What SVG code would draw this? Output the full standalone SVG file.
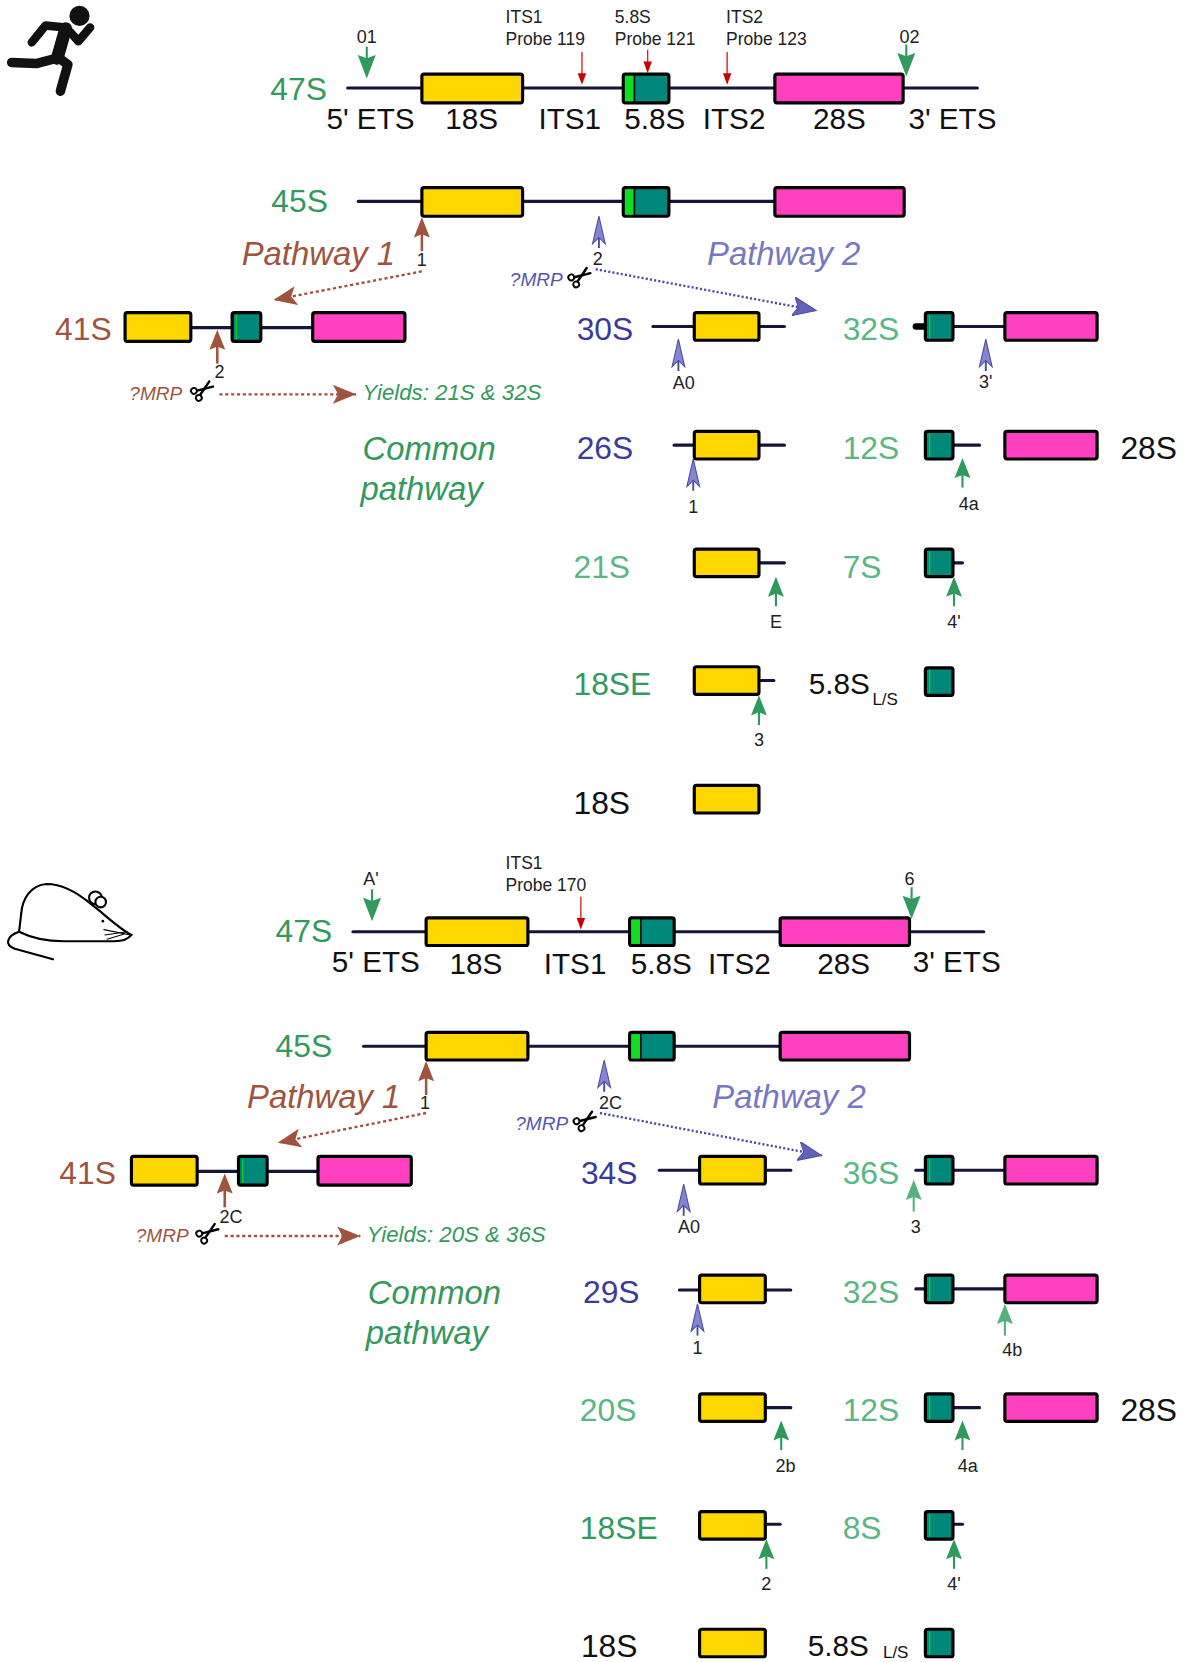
<svg xmlns="http://www.w3.org/2000/svg" width="1185" height="1662" viewBox="0 0 1185 1662">
<style>
text{font-family:"Liberation Sans",Arial,Helvetica,sans-serif}
.lg{font-size:28px}
.nd{font-size:30px}
.pt{font-size:31px;font-style:italic}
.yl{font-size:21px;font-style:italic}
.mr{font-size:18px;font-style:italic}
.sm{font-size:17px;fill:#222;text-anchor:middle}
.pr{font-size:16.5px;fill:#222}
.sub{font-size:16px;fill:#111}
.k{fill:#111}
.dg{fill:#33995d}
.lgn{fill:#5ab685}
.bl{fill:#3a3a9a}
.br{fill:#a0533d}
.pw2{fill:#7777c2}
.mb{fill:#5555b0}
.ln{stroke:#15153a;stroke-width:3;fill:none;stroke-linecap:round}
.y{fill:#ffd700;stroke:#000;stroke-width:3}
.t{fill:#00897b;stroke:#000;stroke-width:3}
.p{fill:#ff40c0;stroke:#000;stroke-width:3}
.s{fill:#11dd22}
.ts{stroke:#11cc22;stroke-width:1.3}
.dotb{stroke:#a0533d;stroke-width:2.2;stroke-dasharray:3 2.5;fill:none}
.dotv{stroke:#4a4aa8;stroke-width:2.2;stroke-dasharray:2 2;fill:none}
</style>
<defs>
  <!-- cleavage-site arrows, tip at origin -->
  <g id="upG"><line x1="0" y1="14" x2="0" y2="28" stroke="#2f9a5c" stroke-width="2"/><path d="M0,0 L7.5,19 L0,16 L-7.5,19 Z" fill="#2f9a5c"/></g>
  <g id="upL"><line x1="0" y1="14" x2="0" y2="30" stroke="#55b27f" stroke-width="2"/><path d="M0,0 L7.5,19 L0,16 L-7.5,19 Z" fill="#55b27f"/></g>
  <g id="upB"><line x1="0" y1="14" x2="0" y2="30" stroke="#4a4aa6" stroke-width="1.8"/><path d="M0,0 L6,26 L0,20 L-6,26 Z" fill="#8686cf" stroke="#4a4aa6" stroke-width="1"/></g>
  <g id="upR"><line x1="0" y1="14" x2="0" y2="32" stroke="#a0533d" stroke-width="2.4"/><path d="M0,0 L7.5,19 L0,16 L-7.5,19 Z" fill="#a0533d"/></g>
  <g id="dnG"><line x1="0" y1="-18" x2="0" y2="-30" stroke="#2f9a5c" stroke-width="2"/><path d="M0,0 L8.5,-22 L0,-19 L-8.5,-22 Z" fill="#2f9a5c"/></g>
  <g id="dnR"><line x1="0" y1="-9" x2="0" y2="-31" stroke="#e02020" stroke-width="1.3"/><path d="M0,0 L4,-11 L-4,-11 Z" fill="#cc0000"/></g>
  <g id="dnRs"><line x1="0" y1="-9" x2="0" y2="-22" stroke="#e02020" stroke-width="1.3"/><path d="M0,0 L4,-11 L-4,-11 Z" fill="#cc0000"/></g>
  <g id="scis" fill="none" stroke="#000" stroke-width="1.8" stroke-linecap="round">
    <g transform="rotate(-35)">
      <circle cx="-7" cy="-4" r="2.8"/>
      <circle cx="-7" cy="4" r="2.8"/>
      <path d="M-4.5,-2.5 L10,3" stroke-width="2.3"/>
      <path d="M-4.5,2.5 L10,-3" stroke-width="2.3"/>
    </g>
  </g>
  <marker id="hBr" markerUnits="userSpaceOnUse" markerWidth="24" markerHeight="20" refX="22" refY="9" orient="auto">
    <path d="M0,0 L22,9 L0,18 L5,9 Z" fill="#a0533d"/>
  </marker>
  <marker id="hBl" markerUnits="userSpaceOnUse" markerWidth="24" markerHeight="20" refX="22" refY="9" orient="auto">
    <path d="M0,0 L22,9 L0,18 L5,9 Z" fill="#6262ba" stroke="#4a4aa8" stroke-width="1"/>
  </marker>
</defs>

<g transform="scale(1.06)">

<!-- runner icon -->
<g id="runner" stroke="#111" stroke-linecap="round" stroke-linejoin="round" fill="none">
  <circle cx="75" cy="15" r="9.5" fill="#111" stroke="none"/>
  <path d="M30,40 L43,24 L62,26" stroke-width="8"/>
  <path d="M66,30 L74,39 L85,26" stroke-width="8"/>
  <path d="M62,27 L54,55" stroke-width="12"/>
  <path d="M53,55 L34,60 L11,59" stroke-width="9"/>
  <path d="M56,55 L64,61 L57,86" stroke-width="9"/>
</g>

<!-- mouse icon -->
<g id="mouse" stroke="#000" stroke-width="2" fill="none" stroke-linecap="round">
  <path d="M124,882 C112,876 98,862 86,853 C74,843 60,834 44,834 C29,835 21,848 20,862 L18,879 C30,885 45,888 60,888 L108,888 C116,888 121,886 124,882 Z" fill="#fff"/>
  <path d="M18,879 C6,883 4,892 14,895 L50,905"/>
  <circle cx="90" cy="847" r="6" fill="#fff"/>
  <circle cx="95" cy="851" r="5" fill="#fff"/>
  <circle cx="97" cy="869" r="1.3" fill="#000" stroke="none"/>
  <path d="M98,877 L123,882 M99,882 L120,879 M101,886 L118,881" stroke-width="1"/>
</g>

<!-- ===== human pathway ===== -->
<g id="h47S">
  <text class="nd dg" x="255" y="94">47S</text>
  <line class="ln" x1="328" y1="83" x2="922" y2="83"/>
  <rect class="y" x="398" y="70" width="95" height="27" rx="2"/>
  <rect class="t" x="588" y="70" width="43" height="27" rx="2"/>
  <rect class="s" x="589.5" y="71.5" width="8.5" height="24"/>
  <line x1="598.5" y1="71" x2="598.5" y2="96" stroke="#000" stroke-width="1.5"/>
  <rect class="p" x="731" y="70" width="121" height="27" rx="2"/>
  <text class="sm" x="346" y="41">01</text>
  <use href="#dnG" x="346" y="74"/>
  <text class="sm" x="858" y="41">02</text>
  <use href="#dnG" x="855" y="72"/>
  <text class="pr" x="477" y="22">ITS1</text>
  <text class="pr" x="477" y="42">Probe 119</text>
  <use href="#dnR" x="549" y="80"/>
  <text class="pr" x="580" y="22">5.8S</text>
  <text class="pr" x="580" y="42">Probe 121</text>
  <use href="#dnRs" x="611" y="69"/>
  <text class="pr" x="685" y="22">ITS2</text>
  <text class="pr" x="685" y="42">Probe 123</text>
  <use href="#dnR" x="686" y="80"/>
  <text class="lg k" x="308" y="122">5' ETS</text>
  <text class="lg k" x="420" y="122">18S</text>
  <text class="lg k" x="508" y="122">ITS1</text>
  <text class="lg k" x="589" y="122">5.8S</text>
  <text class="lg k" x="663" y="122">ITS2</text>
  <text class="lg k" x="767" y="122">28S</text>
  <text class="lg k" x="857" y="122">3' ETS</text>
</g>

<g id="h45S">
  <text class="nd dg" x="256" y="200">45S</text>
  <line class="ln" x1="338" y1="190" x2="731" y2="190"/>
  <rect class="y" x="398" y="177" width="95" height="27" rx="2"/>
  <rect class="t" x="588" y="177" width="43" height="27" rx="2"/>
  <rect class="s" x="589.5" y="178.5" width="8.5" height="24"/>
  <line x1="598.5" y1="178" x2="598.5" y2="203" stroke="#000" stroke-width="1.5"/>
  <rect class="p" x="731" y="177" width="122" height="27" rx="2"/>
  <use href="#upR" x="398" y="205"/>
  <text class="sm" x="398" y="251">1</text>
  <use href="#upB" x="565" y="204"/>
  <text class="sm" x="564" y="250">2</text>
  <text class="pt br" x="228" y="250">Pathway 1</text>
  <text class="pt pw2" x="667" y="250">Pathway 2</text>
  <text class="mr mb" x="481" y="270">?MRP</text>
  <use href="#scis" x="547" y="261"/>
</g>

<g id="h41S">
  <text class="nd br" x="52" y="321">41S</text>
  <line class="ln" x1="180" y1="309" x2="295" y2="309"/>
  <rect class="y" x="118" y="295" width="62" height="27" rx="2"/>
  <rect class="t" x="219" y="295" width="27" height="27" rx="2"/>
  <line class="ts" x1="223" y1="297" x2="223" y2="320"/>
  <rect class="p" x="295" y="295" width="87" height="27" rx="2"/>
  <use href="#upR" x="205" y="311"/>
  <text class="sm" x="207" y="357">2</text>
  <text class="mr br" x="122" y="377">?MRP</text>
  <use href="#scis" x="191" y="368"/>
  <text class="yl dg" x="342" y="377">Yields: 21S &amp; 32S</text>
  <text class="pt dg" x="342" y="434">Common</text>
  <text class="pt dg" x="340" y="472">pathway</text>
</g>

<g id="h30S">
  <text class="nd bl" x="544" y="321">30S</text>
  <line class="ln" x1="616" y1="308" x2="740" y2="308"/>
  <rect class="y" x="655" y="295" width="61" height="26" rx="2"/>
  <use href="#upB" x="640" y="320"/>
  <text class="sm" x="645" y="367">A0</text>
</g>

<g id="h32S">
  <text class="nd lgn" x="795" y="321">32S</text>
  <line x1="864" y1="308" x2="873" y2="308" stroke="#000" stroke-width="6" stroke-linecap="round"/>
  <line class="ln" x1="899" y1="308" x2="948" y2="308"/>
  <rect class="t" x="873" y="295" width="26" height="26" rx="2"/>
  <line class="ts" x1="877" y1="297" x2="877" y2="319"/>
  <rect class="p" x="948" y="295" width="87" height="26" rx="2"/>
  <use href="#upB" x="930" y="320"/>
  <text class="sm" x="930" y="366">3'</text>
</g>

<g id="h26S">
  <text class="nd bl" x="544" y="433">26S</text>
  <line class="ln" x1="636" y1="420" x2="740" y2="420"/>
  <rect class="y" x="655" y="407" width="61" height="26" rx="2"/>
  <use href="#upB" x="654" y="433"/>
  <text class="sm" x="654" y="484">1</text>
</g>

<g id="h12S">
  <text class="nd lgn" x="795" y="433">12S</text>
  <line class="ln" x1="899" y1="420" x2="924" y2="420"/>
  <rect class="t" x="873" y="407" width="26" height="26" rx="2"/>
  <line class="ts" x1="877" y1="409" x2="877" y2="431"/>
  <rect class="p" x="948" y="407" width="87" height="26" rx="2"/>
  <text class="nd k" x="1057" y="433">28S</text>
  <use href="#upG" x="908" y="432"/>
  <text class="sm" x="914" y="481">4a</text>
</g>

<g id="h21S">
  <text class="nd lgn" x="541" y="545">21S</text>
  <line class="ln" x1="716" y1="531" x2="740" y2="531"/>
  <rect class="y" x="655" y="518" width="61" height="26" rx="2"/>
  <use href="#upG" x="732" y="544"/>
  <text class="sm" x="732" y="592">E</text>
</g>

<g id="h7S">
  <text class="nd lgn" x="795" y="545">7S</text>
  <line class="ln" x1="899" y1="531" x2="908" y2="531"/>
  <rect class="t" x="873" y="518" width="26" height="26" rx="2"/>
  <line class="ts" x1="877" y1="520" x2="877" y2="542"/>
  <use href="#upG" x="900" y="544"/>
  <text class="sm" x="900" y="592">4'</text>
</g>

<g id="h18SE">
  <text class="nd dg" x="541" y="656">18SE</text>
  <line class="ln" x1="716" y1="642" x2="730" y2="642"/>
  <rect class="y" x="655" y="629" width="61" height="26" rx="2"/>
  <use href="#upG" x="716" y="656"/>
  <text class="sm" x="716" y="704">3</text>
</g>

<g id="h58S">
  <text class="lg k" x="763" y="655">5.8S</text>
  <text class="sub" x="823" y="665">L/S</text>
  <rect class="t" x="873" y="630" width="26" height="26" rx="2"/>
  <line class="ts" x1="877" y1="632" x2="877" y2="654"/>
</g>

<g id="h18S">
  <text class="nd k" x="541" y="768">18S</text>
  <rect class="y" x="655" y="741" width="61" height="26" rx="2"/>
</g>

<!-- ===== mouse pathway ===== -->
<g id="m47S">
  <text class="nd dg" x="260" y="889">47S</text>
  <line class="ln" x1="333" y1="879" x2="928" y2="879"/>
  <rect class="y" x="402" y="866" width="96" height="26" rx="2"/>
  <rect class="t" x="594" y="866" width="42" height="26" rx="2"/>
  <rect class="s" x="595.5" y="867.5" width="8.5" height="23"/>
  <line x1="604.5" y1="867" x2="604.5" y2="891" stroke="#000" stroke-width="1.5"/>
  <rect class="p" x="736" y="866" width="122" height="26" rx="2"/>
  <text class="sm" x="350" y="835">A'</text>
  <use href="#dnG" x="351" y="869"/>
  <text class="sm" x="858" y="835">6</text>
  <use href="#dnG" x="860" y="867"/>
  <text class="pr" x="477" y="820">ITS1</text>
  <text class="pr" x="477" y="841">Probe 170</text>
  <use href="#dnR" x="548" y="877"/>
  <text class="lg k" x="313" y="917">5' ETS</text>
  <text class="lg k" x="424" y="919">18S</text>
  <text class="lg k" x="513" y="919">ITS1</text>
  <text class="lg k" x="595" y="919">5.8S</text>
  <text class="lg k" x="668" y="919">ITS2</text>
  <text class="lg k" x="771" y="919">28S</text>
  <text class="lg k" x="861" y="917">3' ETS</text>
</g>

<g id="m45S">
  <text class="nd dg" x="260" y="997">45S</text>
  <line class="ln" x1="343" y1="987" x2="736" y2="987"/>
  <rect class="y" x="402" y="974" width="96" height="26" rx="2"/>
  <rect class="t" x="594" y="974" width="42" height="26" rx="2"/>
  <rect class="s" x="595.5" y="975.5" width="8.5" height="23"/>
  <line x1="604.5" y1="975" x2="604.5" y2="999" stroke="#000" stroke-width="1.5"/>
  <rect class="p" x="736" y="974" width="122" height="26" rx="2"/>
  <use href="#upR" x="402" y="1001"/>
  <text class="sm" x="401" y="1046">1</text>
  <use href="#upB" x="570" y="1000"/>
  <text class="sm" x="576" y="1046">2C</text>
  <text class="pt br" x="233" y="1045">Pathway 1</text>
  <text class="pt pw2" x="672" y="1045">Pathway 2</text>
  <text class="mr mb" x="486" y="1066">?MRP</text>
  <use href="#scis" x="552" y="1057"/>
</g>

<g id="m41S">
  <text class="nd br" x="56" y="1117">41S</text>
  <line class="ln" x1="186" y1="1105" x2="300" y2="1105"/>
  <rect class="y" x="124" y="1091" width="62" height="27" rx="2"/>
  <rect class="t" x="225" y="1091" width="27" height="27" rx="2"/>
  <line class="ts" x1="229" y1="1093" x2="229" y2="1116"/>
  <rect class="p" x="300" y="1091" width="88" height="27" rx="2"/>
  <use href="#upR" x="212" y="1107"/>
  <text class="sm" x="218" y="1154">2C</text>
  <text class="mr br" x="128" y="1172">?MRP</text>
  <use href="#scis" x="196" y="1163"/>
  <text class="yl dg" x="346" y="1172">Yields: 20S &amp; 36S</text>
  <text class="pt dg" x="347" y="1230">Common</text>
  <text class="pt dg" x="345" y="1268">pathway</text>
</g>

<g id="m34S">
  <text class="nd bl" x="548" y="1117">34S</text>
  <line class="ln" x1="622" y1="1104" x2="746" y2="1104"/>
  <rect class="y" x="660" y="1091" width="62" height="26" rx="2"/>
  <use href="#upB" x="645" y="1117"/>
  <text class="sm" x="650" y="1163">A0</text>
</g>

<g id="m36S">
  <text class="nd lgn" x="795" y="1117">36S</text>
  <line class="ln" x1="864" y1="1104" x2="873" y2="1104"/>
  <line class="ln" x1="899" y1="1104" x2="948" y2="1104"/>
  <rect class="t" x="873" y="1091" width="26" height="26" rx="2"/>
  <line class="ts" x1="877" y1="1093" x2="877" y2="1115"/>
  <rect class="p" x="948" y="1091" width="87" height="26" rx="2"/>
  <use href="#upL" x="862" y="1113"/>
  <text class="sm" x="864" y="1163">3</text>
</g>

<g id="m29S">
  <text class="nd bl" x="550" y="1229">29S</text>
  <line class="ln" x1="641" y1="1217" x2="746" y2="1217"/>
  <rect class="y" x="660" y="1203" width="62" height="26" rx="2"/>
  <use href="#upB" x="658" y="1230"/>
  <text class="sm" x="658" y="1277">1</text>
</g>

<g id="m32S">
  <text class="nd lgn" x="795" y="1229">32S</text>
  <line class="ln" x1="864" y1="1216" x2="873" y2="1216"/>
  <line class="ln" x1="899" y1="1216" x2="948" y2="1216"/>
  <rect class="t" x="873" y="1203" width="26" height="26" rx="2"/>
  <line class="ts" x1="877" y1="1205" x2="877" y2="1227"/>
  <rect class="p" x="948" y="1203" width="87" height="26" rx="2"/>
  <use href="#upL" x="948" y="1230"/>
  <text class="sm" x="955" y="1279">4b</text>
</g>

<g id="m20S">
  <text class="nd lgn" x="547" y="1341">20S</text>
  <line class="ln" x1="722" y1="1328" x2="746" y2="1328"/>
  <rect class="y" x="660" y="1315" width="62" height="26" rx="2"/>
  <use href="#upG" x="737" y="1340"/>
  <text class="sm" x="741" y="1389">2b</text>
</g>

<g id="m12S">
  <text class="nd lgn" x="795" y="1341">12S</text>
  <line class="ln" x1="899" y1="1328" x2="924" y2="1328"/>
  <rect class="t" x="873" y="1315" width="26" height="26" rx="2"/>
  <line class="ts" x1="877" y1="1317" x2="877" y2="1339"/>
  <rect class="p" x="948" y="1315" width="87" height="26" rx="2"/>
  <text class="nd k" x="1057" y="1341">28S</text>
  <use href="#upG" x="908" y="1340"/>
  <text class="sm" x="913" y="1389">4a</text>
</g>

<g id="m18SE">
  <text class="nd dg" x="547" y="1452">18SE</text>
  <line class="ln" x1="722" y1="1438" x2="736" y2="1438"/>
  <rect class="y" x="660" y="1426" width="62" height="26" rx="2"/>
  <use href="#upG" x="723" y="1452"/>
  <text class="sm" x="723" y="1500">2</text>
</g>

<g id="m8S">
  <text class="nd lgn" x="795" y="1452">8S</text>
  <line class="ln" x1="899" y1="1438" x2="908" y2="1438"/>
  <rect class="t" x="873" y="1426" width="26" height="26" rx="2"/>
  <line class="ts" x1="877" y1="1428" x2="877" y2="1450"/>
  <use href="#upG" x="900" y="1452"/>
  <text class="sm" x="900" y="1500">4'</text>
</g>

<g id="m18S">
  <text class="nd k" x="548" y="1563">18S</text>
  <rect class="y" x="660" y="1537" width="62" height="26" rx="2"/>
</g>

<g id="m58S">
  <text class="lg k" x="762" y="1562">5.8S</text>
  <text class="sub" x="833" y="1564">L/S</text>
  <rect class="t" x="873" y="1537" width="26" height="26" rx="2"/>
  <line class="ts" x1="877" y1="1539" x2="877" y2="1561"/>
</g>

<!-- pathway connectors -->
<g id="connectors">
  <line class="dotb" x1="398" y1="256" x2="258" y2="283" marker-end="url(#hBr)"/>
  <line class="dotv" x1="562" y1="254" x2="770" y2="293" marker-end="url(#hBl)"/>
  <line class="dotb" x1="207" y1="372" x2="336" y2="372" marker-end="url(#hBr)"/>
  <line class="dotb" x1="402" y1="1050" x2="262" y2="1078" marker-end="url(#hBr)"/>
  <line class="dotv" x1="566" y1="1050" x2="775" y2="1090" marker-end="url(#hBl)"/>
  <line class="dotb" x1="212" y1="1166" x2="340" y2="1166" marker-end="url(#hBr)"/>
</g>

</g>
</svg>
